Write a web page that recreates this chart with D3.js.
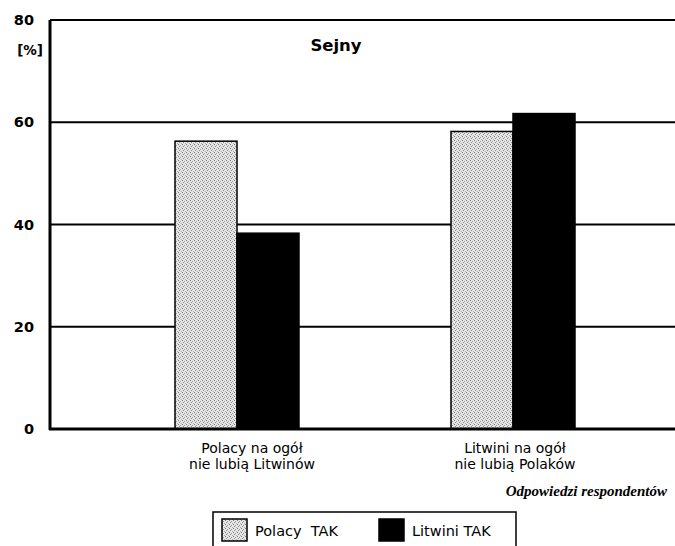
<!DOCTYPE html>
<html>
<head>
<meta charset="utf-8">
<script src="https://cdn.jsdelivr.net/npm/d3@7"></script>
<style>
body { margin:0; background:#fff; }
</style>
</head>
<body>
<div id="chart"></div>
<script>
var categories = ["Polacy na ogół\nnie lubią Litwinów", "Litwini na ogół\nnie lubią Polaków"];
var seriesNames = ["Polacy  TAK", "Litwini TAK"];
var polacy = [56.3, 58.2];
var litwini = [38.3, 61.7];
var yTicks = [0, 20, 40, 60, 80];

var margin = { left:50, right:0, top:20, bottom:117 };
var width = 675 - margin.left - margin.right;
var height = 546 - margin.top - margin.bottom;
var font = "DejaVu Sans, Verdana, sans-serif";

var svg = d3.select("#chart")
    .append("svg")
        .attr("width", 675)
        .attr("height", 546);

// stipple pattern for the light bars
var defs = svg.append("defs");
var pat = defs.append("pattern")
    .attr("id", "stip")
    .attr("width", 4).attr("height", 4)
    .attr("patternUnits", "userSpaceOnUse");
pat.append("rect").attr("width", 4).attr("height", 4).attr("fill", "#e6e6e6");
pat.append("rect").attr("x", 0).attr("y", 0).attr("width", 1).attr("height", 1).attr("fill", "#7a7a7a");
pat.append("rect").attr("x", 2).attr("y", 1).attr("width", 1).attr("height", 1).attr("fill", "#9a9a9a");
pat.append("rect").attr("x", 1).attr("y", 2).attr("width", 1).attr("height", 1).attr("fill", "#8a8a8a");
pat.append("rect").attr("x", 3).attr("y", 3).attr("width", 1).attr("height", 1).attr("fill", "#aaa");

var g = svg.append("g")
    .attr("transform", "translate(" + margin.left + "," + margin.top + ")");

var y = d3.scaleLinear().domain([0, 80]).range([height, 0]);
var xc = d3.scalePoint().domain(categories).range([187, 463]);
var x1 = d3.scaleBand().domain(seriesNames).range([-62, 62]);

// grid lines
g.selectAll("line.grid")
    .data(yTicks.filter(function(d){ return d > 0; }))
    .enter().append("line")
        .attr("class", "grid")
        .attr("x1", 0).attr("x2", width)
        .attr("y1", function(d){ return y(d); })
        .attr("y2", function(d){ return y(d); })
        .attr("stroke", "#000")
        .attr("stroke-width", 2);

// bars
var fills = { "Polacy  TAK": "url(#stip)", "Litwini TAK": "#000" };
var barData = [];
categories.forEach(function(c, i){
    barData.push({ cat:c, s:seriesNames[0], v:polacy[i] });
    barData.push({ cat:c, s:seriesNames[1], v:litwini[i] });
});
g.selectAll("rect.bar")
    .data(barData)
    .enter().append("rect")
        .attr("class", "bar")
        .attr("x", function(d){ return xc(d.cat) + x1(d.s); })
        .attr("width", x1.bandwidth())
        .attr("y", function(d){ return y(d.v); })
        .attr("height", function(d){ return height - y(d.v); })
        .attr("fill", function(d){ return fills[d.s]; })
        .attr("stroke", "#000")
        .attr("stroke-width", 1.5);

// axes
g.append("line")
    .attr("x1", 0).attr("x2", 0)
    .attr("y1", 0).attr("y2", height + 1)
    .attr("stroke", "#000").attr("stroke-width", 3);
g.append("line")
    .attr("x1", -1).attr("x2", width)
    .attr("y1", height).attr("y2", height)
    .attr("stroke", "#000").attr("stroke-width", 3);

var yAxis = g.append("g")
    .call(d3.axisLeft(y).tickValues(yTicks).tickSize(0).tickPadding(16));
yAxis.select(".domain").remove();
yAxis.selectAll("text")
    .attr("font-family", font)
    .attr("font-size", "14.5px")
    .attr("font-weight", "bold")
    .attr("fill", "#000");

g.append("text")
    .attr("x", -7).attr("y", 35)
    .attr("text-anchor", "end")
    .attr("font-family", font)
    .attr("font-size", "13.5px")
    .attr("font-weight", "bold")
    .text("[%]");

g.append("text")
    .attr("x", 286).attr("y", 31)
    .attr("text-anchor", "middle")
    .attr("font-family", font)
    .attr("font-size", "16.5px")
    .attr("font-weight", "bold")
    .text("Sejny");

// category labels
var labelShift = [15, 2];
categories.forEach(function(c, k){
    var t = g.append("text")
        .attr("text-anchor", "middle")
        .attr("font-family", font)
        .attr("font-size", "14px")
        .attr("fill", "#000");
    c.split("\n").forEach(function(line, i){
        t.append("tspan")
            .attr("x", xc(c) + labelShift[k])
            .attr("y", height + 24 + i * 16)
            .text(line);
    });
});

svg.append("text")
    .attr("x", 667).attr("y", 496)
    .attr("text-anchor", "end")
    .attr("font-family", "Liberation Serif, serif")
    .attr("font-style", "italic")
    .attr("font-weight", "bold")
    .attr("font-size", "15px")
    .text("Odpowiedzi respondentów");

// legend
var legend = svg.append("g").attr("transform", "translate(213,512)");
legend.append("rect")
    .attr("x", 0).attr("y", 0)
    .attr("width", 303).attr("height", 40)
    .attr("fill", "#fff")
    .attr("stroke", "#000").attr("stroke-width", 1.5);
var lx = [9, 166];
seriesNames.forEach(function(s, i){
    legend.append("rect")
        .attr("x", lx[i]).attr("y", 7)
        .attr("width", 25).attr("height", 22)
        .attr("fill", fills[s])
        .attr("stroke", "#000").attr("stroke-width", 1.5);
    legend.append("text")
        .attr("x", lx[i] + 33).attr("y", 24)
        .attr("font-family", font)
        .attr("font-size", "14.5px")
        .attr("xml:space", "preserve")
        .style("white-space", "pre")
        .text(s);
});
</script>
</body>
</html>
